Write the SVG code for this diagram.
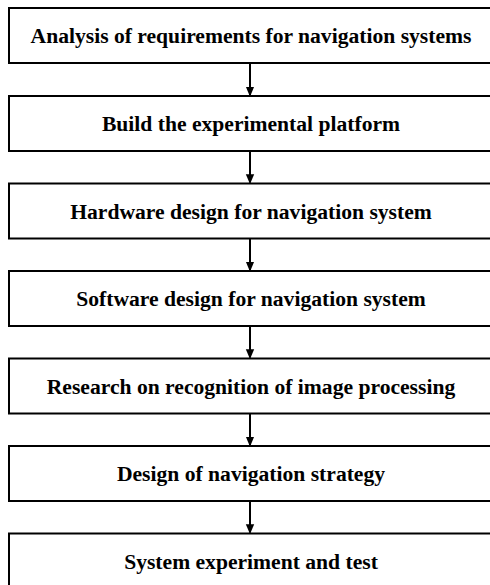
<svg xmlns="http://www.w3.org/2000/svg" width="490" height="585" viewBox="0 0 490 585">
<defs>
<style>
.box{fill:#fff;stroke:#000;stroke-width:2}
.lbl{font-family:"Liberation Serif","Times New Roman",serif;font-weight:bold;font-size:21.6px;fill:#000;text-anchor:middle}
.conn{stroke:#000;stroke-width:2;fill:none}
</style>
<marker id="ah" markerWidth="10" markerHeight="12" refX="10" refY="5" orient="auto" markerUnits="userSpaceOnUse" viewBox="0 0 12 10">
<path d="M0,0 L12,5 L0,10 Z" fill="#000"/>
</marker>
</defs>
<rect width="490" height="585" fill="#fff"/>
<g id="n1"><rect class="box" x="9" y="8" width="484" height="55"/><text class="lbl" x="251" y="43">Analysis of requirements for navigation systems</text></g>
<g id="n2"><rect class="box" x="9" y="96" width="484" height="55"/><text class="lbl" x="251" y="131">Build the experimental platform</text></g>
<g id="n3"><rect class="box" x="9" y="183.5" width="484" height="55"/><text class="lbl" x="251" y="218.5">Hardware design for navigation system</text></g>
<g id="n4"><rect class="box" x="9" y="271" width="484" height="55"/><text class="lbl" x="251" y="306">Software design for navigation system</text></g>
<g id="n5"><rect class="box" x="9" y="358.5" width="484" height="55"/><text class="lbl" x="251" y="393.5">Research on recognition of image processing</text></g>
<g id="n6"><rect class="box" x="9" y="446" width="484" height="55"/><text class="lbl" x="251" y="481">Design of navigation strategy</text></g>
<g id="n7"><rect class="box" x="9" y="533.5" width="484" height="60"/><text class="lbl" x="251" y="568.5">System experiment and test</text></g>
<g id="connectors">
<line class="conn" x1="250" y1="63" x2="250" y2="95" marker-end="url(#ah)"/>
<line class="conn" x1="250" y1="151" x2="250" y2="182.5" marker-end="url(#ah)"/>
<line class="conn" x1="250" y1="238.5" x2="250" y2="270" marker-end="url(#ah)"/>
<line class="conn" x1="250" y1="326" x2="250" y2="357.5" marker-end="url(#ah)"/>
<line class="conn" x1="250" y1="413.5" x2="250" y2="445" marker-end="url(#ah)"/>
<line class="conn" x1="250" y1="501" x2="250" y2="532.5" marker-end="url(#ah)"/>
</g>
</svg>
